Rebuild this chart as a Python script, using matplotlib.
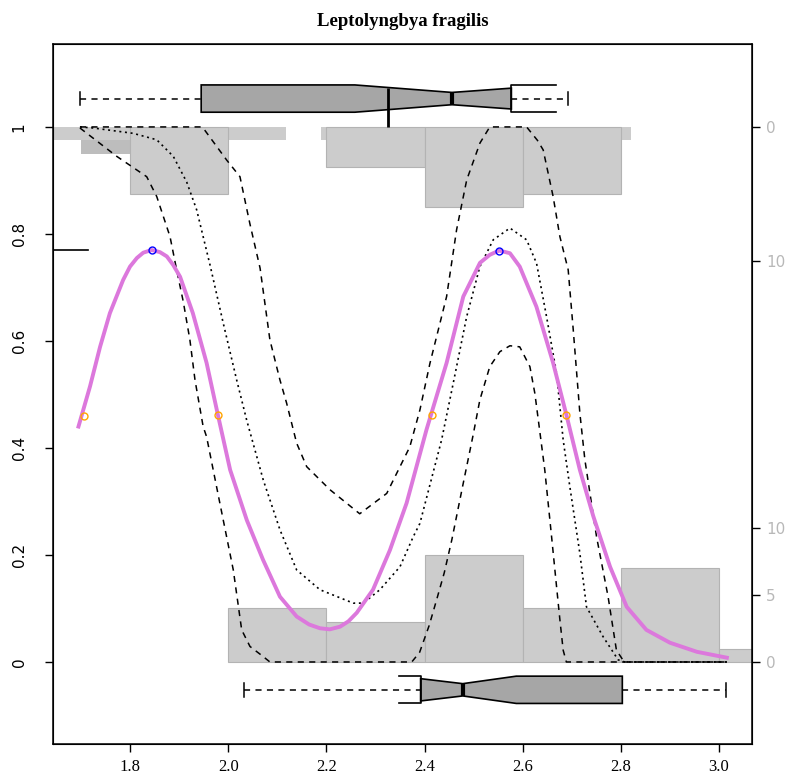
import matplotlib
matplotlib.use('Agg')
import matplotlib.pyplot as plt
import numpy as np

# fitted response curve
fit_x = [1.695, 1.7185, 1.739, 1.759, 1.786, 1.800, 1.814, 1.827, 1.844, 1.861, 1.875, 1.888,
         1.902, 1.928, 1.956, 1.979, 2.004, 2.038, 2.071, 2.1055, 2.1395, 2.165, 2.187, 2.207,
         2.228, 2.245, 2.262, 2.295, 2.3295, 2.3635, 2.404, 2.445, 2.479, 2.513, 2.533, 2.552,
         2.574, 2.594, 2.628, 2.662, 2.689, 2.7165, 2.744, 2.778, 2.812, 2.852, 2.900, 2.955,
         3.016]
fit_y = [0.440, 0.515, 0.589, 0.652, 0.714, 0.739, 0.755, 0.765, 0.770, 0.766, 0.758, 0.742,
         0.720, 0.652, 0.559, 0.462, 0.359, 0.265, 0.191, 0.122, 0.085, 0.070, 0.063, 0.061,
         0.066, 0.076, 0.092, 0.135, 0.209, 0.297, 0.434, 0.559, 0.683, 0.746, 0.761, 0.769,
         0.764, 0.739, 0.664, 0.559, 0.462, 0.359, 0.272, 0.178, 0.103, 0.060, 0.036, 0.019,
         0.008]

# upper band (dashed)
up_x = [1.698, 1.9446, 1.949, 1.997, 2.024, 2.044, 2.065, 2.085, 2.1055, 2.119, 2.1395, 2.160,
        2.2073, 2.268, 2.323, 2.370, 2.3906, 2.411, 2.445, 2.4654, 2.486, 2.513, 2.533, 2.608,
        2.630, 2.6418, 2.662, 2.6758, 2.6927, 2.703, 2.7165, 2.7267, 2.7505, 2.774, 2.791,
        2.804, 2.814, 3.016]
up_y = [1.0, 1.0, 0.998, 0.938, 0.907, 0.820, 0.736, 0.602, 0.527, 0.484, 0.409, 0.365,
        0.322, 0.277, 0.315, 0.402, 0.471, 0.558, 0.683, 0.808, 0.901, 0.970, 1.0, 1.0,
        0.975, 0.957, 0.870, 0.795, 0.733, 0.621, 0.465, 0.378, 0.234, 0.122, 0.022,
        0.004, 0.0, 0.0]

# lower band (dashed)
lo_x = [1.698, 1.773, 1.834, 1.8544, 1.8815, 1.895, 1.9086, 1.922, 1.9324, 1.949, 1.956, 1.983,
        2.0104, 2.0275, 2.0444, 2.0715, 2.085, 2.374, 2.390, 2.4094, 2.4249, 2.4403, 2.4558,
        2.476, 2.499, 2.5128, 2.533, 2.5536, 2.574, 2.594, 2.6147, 2.6248, 2.635, 2.645, 2.6589,
        2.669, 2.6758, 2.6825, 2.689, 3.016]
lo_y = [0.998, 0.945, 0.907, 0.870, 0.795, 0.733, 0.673, 0.602, 0.527, 0.440, 0.421, 0.297,
        0.172, 0.060, 0.029, 0.010, 0.0, 0.0, 0.018, 0.068, 0.117, 0.167, 0.229,
        0.321, 0.424, 0.490, 0.552, 0.580, 0.591, 0.589, 0.552, 0.502, 0.430, 0.359, 0.234,
        0.141, 0.079, 0.022, 0.0, 0.0]

# middle curve (dotted)
mid_x = [1.698, 1.7253, 1.8067, 1.8544, 1.8882, 1.9155, 1.9358, 1.963, 1.990, 2.0173, 2.0377,
         2.0715, 2.1055, 2.1395, 2.187, 2.2548, 2.2752, 2.309, 2.350, 2.377, 2.3906, 2.4348,
         2.4585, 2.4858, 2.5128, 2.540, 2.574, 2.608, 2.6283, 2.6487, 2.669, 2.6825, 2.696,
         2.7165, 2.730, 2.764, 2.7945, 2.808, 3.016]
mid_y = [1.0, 0.998, 0.988, 0.976, 0.945, 0.897, 0.845, 0.742, 0.633, 0.527, 0.452,
         0.340, 0.247, 0.172, 0.135, 0.110, 0.110, 0.135, 0.178, 0.234, 0.259, 0.415,
         0.521, 0.645, 0.739, 0.789, 0.811, 0.789, 0.745, 0.645, 0.540, 0.415, 0.328,
         0.203, 0.103, 0.047, 0.004, 0.0, 0.0]

peak_x = [1.844, 2.552]
peak_y = [0.770, 0.769]
half_x = [1.706, 1.979, 2.415, 2.689]
half_y = [0.459, 0.462, 0.462, 0.462]

# histograms: counts per 0.2 bin
bin_left = [1.8, 2.0, 2.2, 2.4, 2.6, 2.8, 3.0]
absent_counts = [5, 0, 3, 6, 5, 0, 0]     # hanging from 1
present_counts = [0, 4, 3, 8, 4, 7, 1]    # standing on 0
count_scale = 0.025
# extra one-count strips at the top and a two-count strip
strip_left = [1.55, 2.19]
strip_right = [2.118, 2.82]
dark_left, dark_right, dark_count = 1.70, 1.80, 2

# boxplots: whisker lo, Q1, notch lo, median, notch hi, Q3, whisker hi
top_box = [1.698, 1.945, 2.258, 2.456, 2.668, 2.577, 2.693]
bot_box = [2.033, 2.392, 2.349, 2.478, 2.587, 2.803, 3.015]
top_mark_x = 2.326
max_level = 0.770
max_level_x = 1.714

DASH = (0, (4, 3.5))

fig = plt.figure(figsize=(7.97, 7.78), dpi=100)
ax = fig.add_axes([53 / 797, 34 / 778, 699 / 797, 700 / 778])

# histogram bars
ax.bar(dark_left, -dark_count * count_scale, width=dark_right - dark_left, bottom=1.0,
       align='edge', color='#bdbdbd', edgecolor='none', zorder=1)
ax.bar(strip_left, [-count_scale] * len(strip_left),
       width=np.array(strip_right) - np.array(strip_left), bottom=1.0,
       align='edge', color='#cccccc', edgecolor='none', zorder=1)
for l, c in zip(bin_left, absent_counts):
    if c > 0:
        ax.bar(l, -c * count_scale, width=0.2, bottom=1.0, align='edge', color='#cccccc',
               edgecolor='#b3b3b3', linewidth=0.8, zorder=1)
for l, c in zip(bin_left, present_counts):
    if c > 0:
        ax.bar(l, c * count_scale, width=0.2, bottom=0.0, align='edge', color='#cccccc',
               edgecolor='#b3b3b3', linewidth=0.8, zorder=1)


def notched_box(ax, st, yc, h=0.0255, frac=0.45):
    wl, q1, c1, md, c2, q3, wh = st

    def half(x):
        if x <= md:
            t = (md - x) / (md - c1)
        else:
            t = (x - md) / (c2 - md)
        return h * min(1.0, frac + (1 - frac) * t)

    xs = [q1]
    if c1 > q1:
        xs.append(c1)
    xs.append(md)
    if c2 < q3:
        xs.append(c2)
    xs.append(q3)
    top = [half(x) for x in xs]
    px = xs + xs[::-1]
    py = [yc + t for t in top] + [yc - t for t in top[::-1]]
    ax.fill(px, py, facecolor='#a6a6a6', edgecolor='black', linewidth=1.2, zorder=4)
    # brackets where the notch runs past the hinges
    if c1 < q1:
        ax.plot([c1, q1, q1, c1], [yc + h, yc + h, yc - h, yc - h], color='black',
                linewidth=1.2, zorder=4)
    if c2 > q3:
        ax.plot([c2, q3, q3, c2], [yc + h, yc + h, yc - h, yc - h], color='black',
                linewidth=1.2, zorder=4)
    ax.plot([md, md], [yc - frac * h, yc + frac * h], color='black', linewidth=3, zorder=5,
            solid_capstyle='butt')
    ax.plot([wl, q1], [yc, yc], color='black', linestyle=DASH, linewidth=1.1, zorder=3)
    ax.plot([q3, wh], [yc, yc], color='black', linestyle=DASH, linewidth=1.1, zorder=3)
    for w in (wl, wh):
        ax.plot([w, w], [yc - h / 2, yc + h / 2], color='black', linewidth=1.1, zorder=3)


notched_box(ax, top_box, 1.053)
notched_box(ax, bot_box, -0.052)
ax.plot([top_mark_x, top_mark_x], [1.0, 1.073], color='black', linewidth=2, zorder=6,
        solid_capstyle='butt')
ax.plot([1.6431, max_level_x], [max_level, max_level], color='black', linewidth=1.2, zorder=3)

# bands
ax.plot(up_x, up_y, color='black', linestyle=DASH, linewidth=1.1, zorder=3)
ax.plot(lo_x, lo_y, color='black', linestyle=DASH, linewidth=1.1, zorder=3)
ax.plot(mid_x, mid_y, color='black', linestyle=(0, (1.2, 2.2)), linewidth=1.2, zorder=3)

ax.plot(fit_x, fit_y, color='#dc78dc', linewidth=2.8, zorder=4, solid_joinstyle='round')
ax.plot(peak_x, peak_y, 'o', markerfacecolor='none', markeredgecolor='blue', markersize=5,
        markeredgewidth=1, zorder=5)
ax.plot(half_x, half_y, 'o', markerfacecolor='none', markeredgecolor='orange', markersize=5,
        markeredgewidth=1, zorder=5)

ax.set_xlim(1.6431, 3.0672)
ax.set_ylim(-0.1533, 1.155)
ax.set_xticks([1.8, 2.0, 2.2, 2.4, 2.6, 2.8, 3.0])
ax.set_xticklabels(['1.8', '2.0', '2.2', '2.4', '2.6', '2.8', '3.0'], family='Liberation Serif',
                   fontsize=12)
ax.set_yticks([0, 0.2, 0.4, 0.6, 0.8, 1.0])
ax.set_yticklabels(['0', '0.2', '0.4', '0.6', '0.8', '1'], rotation=90, va='center', fontsize=11)
ax.tick_params(axis='x', direction='out', length=6, width=1, pad=5)
ax.tick_params(axis='y', direction='out', length=6, width=1, pad=13)
for s in ax.spines.values():
    s.set_linewidth(1.1)

ax2 = ax.twinx()
ax2.set_ylim(ax.get_ylim())
right_pos = [0, 5 * count_scale, 10 * count_scale, 1.0 - 10 * count_scale, 1.0]
right_lab = ['0', '5', '10', '10', '0']
ax2.set_yticks(right_pos)
ax2.set_yticklabels(right_lab, color='#b8b8b8', fontsize=11)
ax2.tick_params(direction='out', length=6, width=1, pad=4)

ax.set_title('Leptolyngbya fragilis', family='Liberation Serif', fontweight='bold',
             fontsize=13.5, pad=13)

fig.savefig('out.png', dpi=100)
